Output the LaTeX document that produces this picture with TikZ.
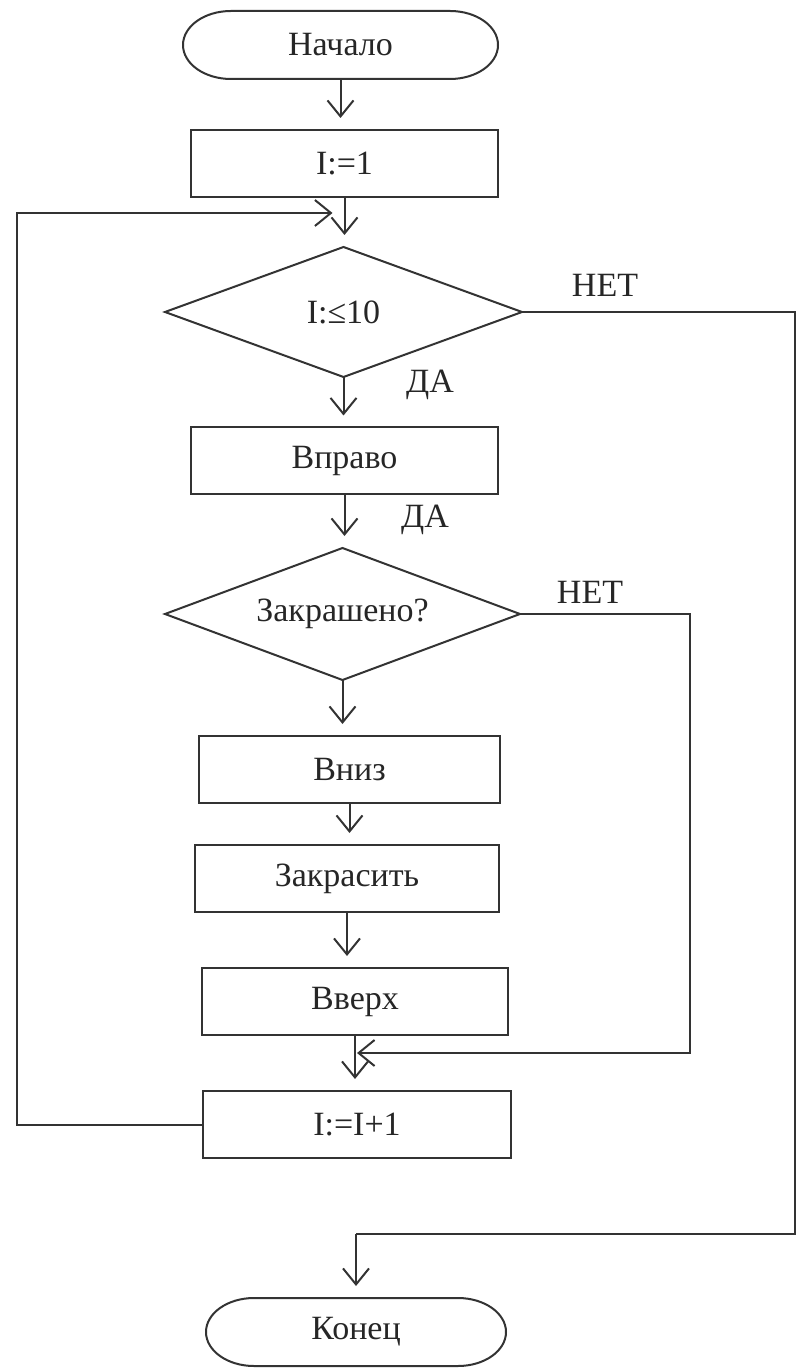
\documentclass[tikz,border=0pt]{standalone}
\usepackage{fontspec}
\setmainfont{Liberation Serif}
\usetikzlibrary{arrows.meta}
\begin{document}
\begin{tikzpicture}[x=0.5pt,y=-0.5pt,
  every node/.style={font=\fontsize{17}{20}\selectfont, text=black!85},
  ln/.style={line width=1pt, draw=black!80},
  arr/.style={ln, -{Straight Barb[length=8pt,width=13pt]}, shorten >=6pt},
  proc/.style={ln, rectangle, minimum height=33.5pt, inner sep=0pt, outer sep=0pt},
  dec/.style={rectangle, inner sep=0pt, outer sep=0pt},
  term/.style={rectangle, minimum height=34pt, inner sep=0pt, outer sep=0pt},
  termline/.style={ln}
]
\useasboundingbox (0,0) rectangle (797,1368);

\node[term, minimum width=157.5pt] (start) at (340.5,45) {Начало};
\node[proc, minimum width=153.5pt] (b1) at (344.5,163.5) {I:=1};
\node[dec, minimum width=178.5pt, minimum height=65pt] (d1) at (343.5,312) {I:≤10};
\node[proc, minimum width=153.5pt] (b2) at (344.5,461) {Вправо};
\node[dec, minimum width=177.5pt, minimum height=66pt] (d2) at (342.5,614) {Закрашено?};
\node[proc, minimum width=150.5pt] (b3) at (349.5,769.5) {Вниз};
\node[proc, minimum width=152pt] (b4) at (347,878.5) {Закрасить};
\node[proc, minimum width=153pt] (b5) at (355,1001.5) {Вверх};
\node[proc, minimum width=154pt] (b6) at (357,1124.5) {I:=I+1};
\node[term, minimum width=150pt] (end) at (356,1332) {Конец};

% decision outlines
\draw[ln, line join=miter] (d1.north) -- (d1.east) -- (d1.south) -- (d1.west) -- cycle;
\draw[ln, line join=miter] (d2.north) -- (d2.east) -- (d2.south) -- (d2.west) -- cycle;

% terminal outlines
\draw[termline] ([xshift=24pt]start.north west) -- ([xshift=-24pt]start.north east)
  arc[start angle=90,end angle=-90,x radius=24pt,y radius=17pt]
  -- ([xshift=24pt]start.south west)
  arc[start angle=270,end angle=90,x radius=24pt,y radius=17pt] -- cycle;
\draw[termline] ([xshift=24pt]end.north west) -- ([xshift=-24pt]end.north east)
  arc[start angle=90,end angle=-90,x radius=24pt,y radius=17pt]
  -- ([xshift=24pt]end.south west)
  arc[start angle=270,end angle=90,x radius=24pt,y radius=17pt] -- cycle;

% labels
\node (no1) at (605,285) {НЕТ};
\node (yes1) at (430,385) {ДА};
\node (yes2) at (425,520) {ДА};
\node (no2) at (590,592) {НЕТ};

% helper coordinates
\path (b1.south) ++(0,16) coordinate (j1);
\path (b5.south) ++(0,18) coordinate (j2);
\path (end.north) ++(0,-64) coordinate (j3);
\coordinate (lx) at (17,0);
\coordinate (rx) at (795,0);
\coordinate (mx) at (690,0);

% main flow
\draw[arr] (start.south) -- (start.south |- b1.north);
\draw[arr] (b1.south) -- (b1.south |- d1.north);
\draw[arr] (d1.south) -- (d1.south |- b2.north);
\draw[arr] (b2.south) -- (b2.south |- d2.north);
\draw[arr] (d2.south) -- (d2.south |- b3.north);
\draw[arr] (b3.south) -- (b3.south |- b4.north);
\draw[arr] (b4.south) -- (b4.south |- b5.north);
\draw[arr] (b5.south) -- (b5.south |- b6.north);

% loop back
\draw[arr] (b6.west) -- (b6.west -| lx) |- (j1);
% inner NO branch
\draw[arr, shorten >=1pt] (d2.east) -- (d2.east -| mx) |- (j2);
% outer NO branch
\draw[ln] (d1.east) -- (d1.east -| rx) |- (j3);
\draw[arr] (j3) -- (j3 |- end.north);
\end{tikzpicture}
\end{document}
